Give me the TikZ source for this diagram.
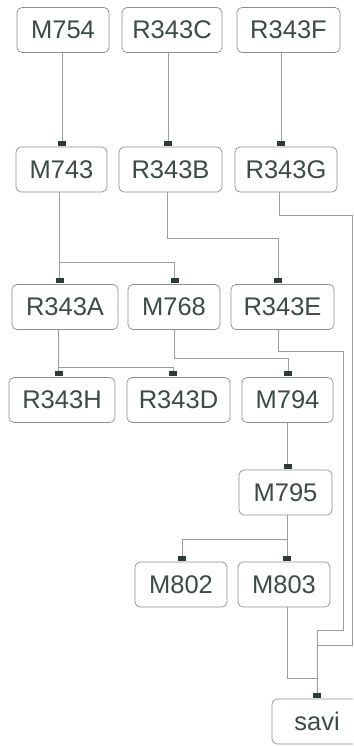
\documentclass[tikz,border=0pt]{standalone}
\usepackage{fontspec}
\setmainfont{Liberation Sans}
\usetikzlibrary{arrows.meta}
\definecolor{txtc}{HTML}{3D4A47}
\definecolor{boxc}{HTML}{8E8E8E}
\definecolor{linec}{HTML}{9C9C9C}
\definecolor{markc}{HTML}{2E3A36}
\tikzset{
  box/.style={draw=boxc, line width=0.7pt, rounded corners=5pt, fill=white,
    minimum height=45pt, inner sep=0pt, text=txtc,
    font=\fontsize{25.5pt}{30pt}\selectfont},
  conn/.style={draw=linec, line width=0.7pt,
    -{Rectangle[length=5pt,width=7.5pt,fill=markc,color=markc]}, shorten >=1pt},
  plain/.style={draw=linec, line width=0.7pt}
}
\begin{document}
\begin{tikzpicture}[x=1pt,y=-1pt]
\useasboundingbox (0,0) rectangle (353,746);
\fill[white] (0,0) rectangle (353,746);
\begin{scope}
\clip (0,0) rectangle (353,746);
% row 1
\node[box, minimum width=92pt]  (M754)  at (63,30)    {M754};
\node[box, minimum width=100pt] (R343C) at (172,30)   {R343C};
\node[box, minimum width=103pt] (R343F) at (288.5,30) {R343F};
% row 2
\node[box, minimum width=91pt]  (M743)  at (61.5,169.5) {M743};
\node[box, minimum width=103pt] (R343B) at (170.5,169.5){R343B};
\node[box, minimum width=102pt] (R343G) at (286,169.5)  {R343G};
% row 3
\node[box, minimum width=106pt] (R343A) at (65,307)    {R343A};
\node[box, minimum width=92pt]  (M768)  at (174,307)   {M768};
\node[box, minimum width=103pt] (R343E) at (282.5,307) {R343E};
% row 4
\node[box, minimum width=106pt] (R343H) at (62,400)    {R343H};
\node[box, minimum width=103pt] (R343D) at (178.5,400) {R343D};
\node[box, minimum width=91pt]  (M794)  at (287.5,400) {M794};
% row 5
\node[box, minimum width=93pt]  (M795)  at (285.5,492.5) {M795};
% row 6
\node[box, minimum width=92pt]  (M802)  at (181,584.5) {M802};
\node[box, minimum width=92pt]  (M803)  at (284,584.5) {M803};
% savi
\node[box, minimum width=90pt]  (savi)  at (317,721.5) {savi};

% connectors
\draw[conn] ([xshift=-1pt]M754.south) -- ([xshift=-1pt]M754.south |- M743.north);
\draw[conn] ([xshift=-4pt]R343C.south) -- ([xshift=-4pt]R343C.south |- R343B.north);
\draw[conn] ([xshift=-7.5pt]R343F.south) -- ([xshift=-7.5pt]R343F.south |- R343G.north);

\draw[conn] ([xshift=-2pt]M743.south) -- ([xshift=-5.5pt]R343A.north);
\draw[conn] ([xshift=-2pt]M743.south) -- ++(0,70) -| ([xshift=0.5pt]M768.north);

\draw[conn] ([xshift=-3.5pt]R343B.south) -- ++(0,46) -| ([xshift=-4.5pt]R343E.north);

\draw[conn] ([xshift=-7pt]R343G.south) -- ++(0,23) -- ++(73,0) -- ++(0,430) -| (savi.north);

\draw[conn] ([xshift=-6.5pt]R343A.south) -- ([xshift=-3.5pt]R343H.north);
\draw[conn] ([xshift=-6.5pt]R343A.south) -- ++(0,37) -| ([xshift=-5.5pt]R343D.north);

\draw[conn] (M768.south) -- ++(0,28) -| ([xshift=0.5pt]M794.north);

\draw[conn] ([xshift=-4.5pt]R343E.south) -- ++(0,21) -- ++(65,0) -- ++(0,279) -| (savi.north);

\draw[conn] (M794.south) -- ([xshift=2pt]M795.north);

\draw[conn] ([xshift=1.5pt]M795.south) -- ([xshift=3pt]M803.north);
\draw[conn] ([xshift=1.5pt]M795.south) -- ++(0,24) -| ([xshift=1pt]M802.north);

\draw[conn] ([xshift=3pt]M803.south) -- ++(0,71) -| (savi.north);
\end{scope}
\end{tikzpicture}
\end{document}
